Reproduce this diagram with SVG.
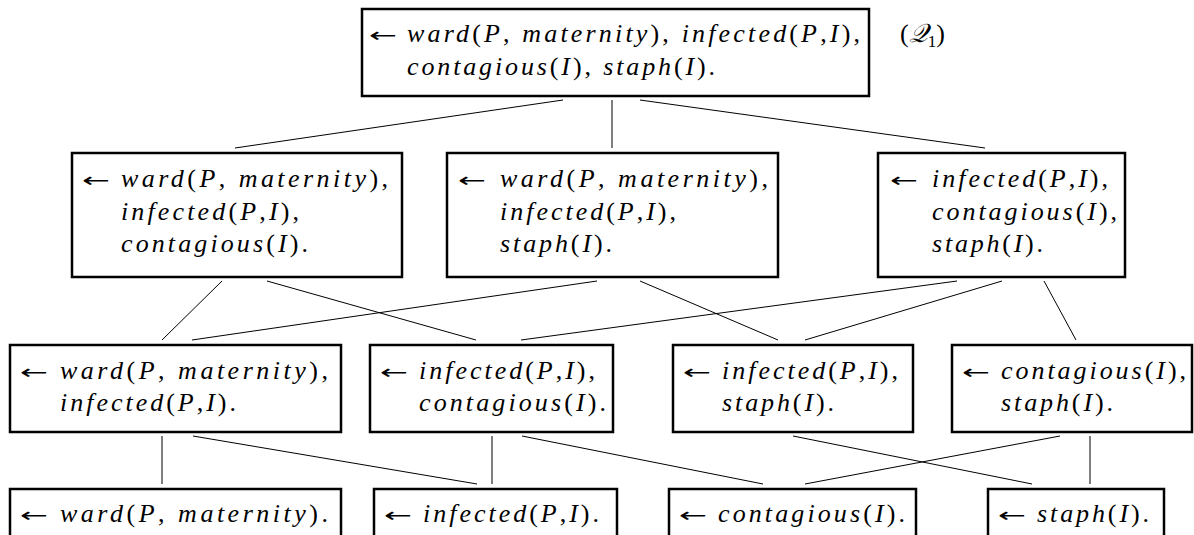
<svg xmlns="http://www.w3.org/2000/svg" width="1194" height="535" viewBox="0 0 1194 535">
<style>
.b{fill:#fff;stroke:#000;stroke-width:2.5}
.t{font-family:"Liberation Serif","DejaVu Serif",serif;font-style:italic;font-size:26px;fill:#000}
.u{font-style:normal}
.a{font-family:"DejaVu Sans",sans-serif;font-size:20px;font-style:normal;fill:#000}
.c line{stroke:#000;stroke-width:1}
</style>
<rect width="1194" height="535" fill="#fff"/>
<g class="c" id="connectors">
<line x1="563" y1="100" x2="235" y2="148"/>
<line x1="612" y1="100" x2="612" y2="148"/>
<line x1="640" y1="100" x2="985" y2="148"/>
<line x1="222" y1="281" x2="162" y2="340"/>
<line x1="597" y1="281" x2="192" y2="340"/>
<line x1="267" y1="281" x2="476" y2="340"/>
<line x1="957" y1="281" x2="521" y2="340"/>
<line x1="640" y1="281" x2="778" y2="340"/>
<line x1="1002" y1="281" x2="805" y2="340"/>
<line x1="1044" y1="281" x2="1076" y2="340"/>
<line x1="162" y1="436" x2="162" y2="484"/>
<line x1="193" y1="436" x2="477" y2="484"/>
<line x1="492" y1="436" x2="492" y2="484"/>
<line x1="522" y1="436" x2="763" y2="484"/>
<line x1="793" y1="436" x2="1032" y2="484"/>
<line x1="1060" y1="436" x2="805" y2="484"/>
<line x1="1090" y1="436" x2="1090" y2="484"/>
</g>
<g id="q1">
<rect class="b" x="362" y="9" width="507" height="87"/>
<text class="a" x="369" y="42" textLength="28" lengthAdjust="spacingAndGlyphs">←</text>
<text class="t" x="407" y="42" textLength="453">ward<tspan class="u">(</tspan>P<tspan class="u">,</tspan> maternity<tspan class="u">),</tspan> infected<tspan class="u">(</tspan>P<tspan class="u">,</tspan>I<tspan class="u">),</tspan></text>
<text class="t" x="407" y="75" textLength="308">contagious<tspan class="u">(</tspan>I<tspan class="u">),</tspan> staph<tspan class="u">(</tspan>I<tspan class="u">).</tspan></text>
<text class="t" x="900" y="42"><tspan class="u">(</tspan>𝒬<tspan class="u" font-size="17" dy="5">1</tspan><tspan class="u" dy="-5">)</tspan></text>
</g>
<g id="n2a">
<rect class="b" x="72" y="153" width="330" height="124"/>
<text class="a" x="82" y="187" textLength="28" lengthAdjust="spacingAndGlyphs">←</text>
<text class="t" x="121" y="187" textLength="267">ward<tspan class="u">(</tspan>P<tspan class="u">,</tspan> maternity<tspan class="u">),</tspan></text>
<text class="t" x="121" y="220" textLength="178">infected<tspan class="u">(</tspan>P<tspan class="u">,</tspan>I<tspan class="u">),</tspan></text>
<text class="t" x="121" y="252" textLength="187">contagious<tspan class="u">(</tspan>I<tspan class="u">).</tspan></text>
</g>
<g id="n2b">
<rect class="b" x="447" y="153" width="331" height="124"/>
<text class="a" x="458" y="187" textLength="28" lengthAdjust="spacingAndGlyphs">←</text>
<text class="t" x="500" y="187" textLength="268">ward<tspan class="u">(</tspan>P<tspan class="u">,</tspan> maternity<tspan class="u">),</tspan></text>
<text class="t" x="500" y="220" textLength="176">infected<tspan class="u">(</tspan>P<tspan class="u">,</tspan>I<tspan class="u">),</tspan></text>
<text class="t" x="500" y="252" textLength="112">staph<tspan class="u">(</tspan>I<tspan class="u">).</tspan></text>
</g>
<g id="n2c">
<rect class="b" x="878" y="153" width="247" height="124"/>
<text class="a" x="890" y="187" textLength="28" lengthAdjust="spacingAndGlyphs">←</text>
<text class="t" x="932" y="187" textLength="176">infected<tspan class="u">(</tspan>P<tspan class="u">,</tspan>I<tspan class="u">),</tspan></text>
<text class="t" x="932" y="220" textLength="185">contagious<tspan class="u">(</tspan>I<tspan class="u">),</tspan></text>
<text class="t" x="932" y="252" textLength="111">staph<tspan class="u">(</tspan>I<tspan class="u">).</tspan></text>
</g>
<g id="n3a">
<rect class="b" x="10" y="345" width="331" height="87"/>
<text class="a" x="20" y="379" textLength="28" lengthAdjust="spacingAndGlyphs">←</text>
<text class="t" x="60" y="379" textLength="268">ward<tspan class="u">(</tspan>P<tspan class="u">,</tspan> maternity<tspan class="u">),</tspan></text>
<text class="t" x="60" y="411" textLength="176">infected<tspan class="u">(</tspan>P<tspan class="u">,</tspan>I<tspan class="u">).</tspan></text>
</g>
<g id="n3b">
<rect class="b" x="370" y="345" width="243" height="87"/>
<text class="a" x="380" y="379" textLength="28" lengthAdjust="spacingAndGlyphs">←</text>
<text class="t" x="419" y="379" textLength="176">infected<tspan class="u">(</tspan>P<tspan class="u">,</tspan>I<tspan class="u">),</tspan></text>
<text class="t" x="419" y="411" textLength="187">contagious<tspan class="u">(</tspan>I<tspan class="u">).</tspan></text>
</g>
<g id="n3c">
<rect class="b" x="673" y="345" width="240" height="87"/>
<text class="a" x="683" y="379" textLength="28" lengthAdjust="spacingAndGlyphs">←</text>
<text class="t" x="722" y="379" textLength="176">infected<tspan class="u">(</tspan>P<tspan class="u">,</tspan>I<tspan class="u">),</tspan></text>
<text class="t" x="722" y="411" textLength="112">staph<tspan class="u">(</tspan>I<tspan class="u">).</tspan></text>
</g>
<g id="n3d">
<rect class="b" x="952" y="345" width="240" height="87"/>
<text class="a" x="962" y="379" textLength="28" lengthAdjust="spacingAndGlyphs">←</text>
<text class="t" x="1001" y="379" textLength="185">contagious<tspan class="u">(</tspan>I<tspan class="u">),</tspan></text>
<text class="t" x="1001" y="411" textLength="112">staph<tspan class="u">(</tspan>I<tspan class="u">).</tspan></text>
</g>
<g id="n4a">
<rect class="b" x="10" y="489" width="331" height="70"/>
<text class="a" x="20" y="522" textLength="28" lengthAdjust="spacingAndGlyphs">←</text>
<text class="t" x="60" y="522" textLength="268">ward<tspan class="u">(</tspan>P<tspan class="u">,</tspan> maternity<tspan class="u">).</tspan></text>
</g>
<g id="n4b">
<rect class="b" x="374" y="489" width="243" height="70"/>
<text class="a" x="384" y="522" textLength="28" lengthAdjust="spacingAndGlyphs">←</text>
<text class="t" x="423" y="522" textLength="176">infected<tspan class="u">(</tspan>P<tspan class="u">,</tspan>I<tspan class="u">).</tspan></text>
</g>
<g id="n4c">
<rect class="b" x="669" y="489" width="247" height="70"/>
<text class="a" x="679" y="522" textLength="28" lengthAdjust="spacingAndGlyphs">←</text>
<text class="t" x="718" y="522" textLength="187">contagious<tspan class="u">(</tspan>I<tspan class="u">).</tspan></text>
</g>
<g id="n4d">
<rect class="b" x="988" y="489" width="176" height="70"/>
<text class="a" x="998" y="522" textLength="28" lengthAdjust="spacingAndGlyphs">←</text>
<text class="t" x="1037" y="522" textLength="112">staph<tspan class="u">(</tspan>I<tspan class="u">).</tspan></text>
</g>
</svg>
